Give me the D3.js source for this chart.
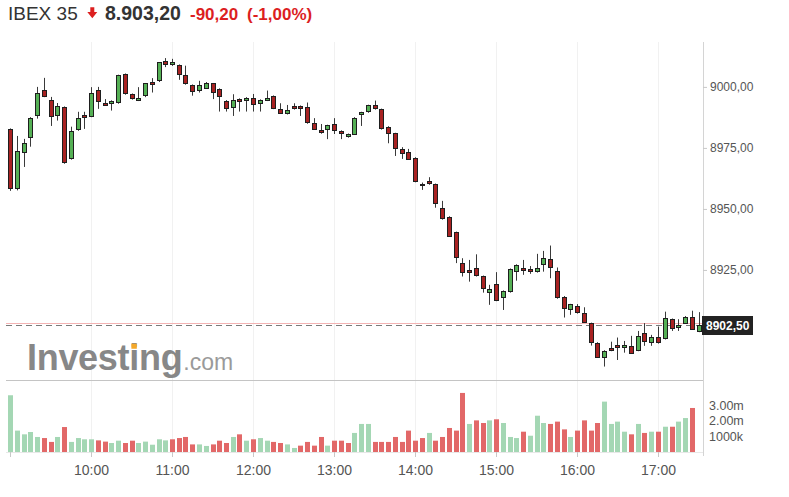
<!DOCTYPE html>
<html>
<head>
<meta charset="utf-8">
<script src="https://cdn.jsdelivr.net/npm/d3@7"></script>
<style>
  body { margin: 0; background: #fff; }
  svg { font-family: Arial, "Liberation Sans", sans-serif; display: block; }
  .axis text { fill: #555; }
  .axis line { stroke: #c8c8c8; }
</style>
</head>
<body>
<svg id="chart"></svg>
<script>
// header values
const symbol = 'IBEX 35';
const lastPrice = 8903.20;
const change = -90.20;
const changePct = -1.00;
const lineClose = 8903.20;   // pink reference line
const lastTick = 8902.50;    // dashed line + label

// 5 minute candles from 09:00
const sessionStart = '09:00';
const barMinutes = 5;

const opens = [8982.8, 8958.2, 8973.0, 8979.1, 8988.1, 8998.8, 8994.7, 8988.2, 8991.7, 8970.4,
  8982.4, 8988.5, 8987.8, 8998.8, 8993.6, 8993.0, 8993.3, 9005.3, 8997.1, 8994.4,
  8996.0, 9002.0, 9002.2, 9010.7, 9008.8, 9009.0, 9004.9, 9000.8, 8998.5, 8999.5,
  9001.4, 8999.2, 8994.4, 8991.3, 8995.1, 8994.4, 8995.6, 8992.9, 8994.4, 8996.3,
  8991.1, 8988.9, 8992.2, 8992.2, 8991.7, 8985.4, 8982.4, 8982.4, 8984.8, 8982.0,
  8979.4, 8980.6, 8988.4, 8989.6, 8992.5, 8990.9, 8983.7, 8981.0, 8974.5, 8973.5,
  8971.0, 8959.1, 8961.5, 8960.2, 8950.5, 8946.8, 8940.5, 8928.0, 8925.0, 8925.9,
  8922.5, 8915.5, 8919.3, 8913.4, 8915.9, 8924.3, 8925.9, 8925.4, 8924.1, 8927.3,
  8929.5, 8924.6, 8914.1, 8908.3, 8910.3, 8907.5, 8903.2, 8895.2, 8889.1, 8893.2,
  8894.3, 8892.9, 8894.0, 8891.9, 8899.3, 8895.0, 8897.4, 8896.7, 8904.9, 8901.1,
  8903.2, 8905.9, 8899.7];
const highs = [8983.0, 8979.9, 8978.7, 8987.6, 9000.0, 9003.7, 8995.9, 8993.4, 8992.0, 8983.7,
  8989.8, 8989.8, 8999.9, 9000.0, 8995.0, 8994.5, 9005.0, 9005.5, 8997.3, 8999.9,
  9001.6, 9003.6, 9010.2, 9011.8, 9011.5, 9009.2, 9008.7, 9001.0, 9002.5, 9002.0,
  9001.6, 8999.4, 8994.6, 8997.0, 8995.3, 8995.8, 8997.1, 8994.9, 8998.5, 8996.5,
  8993.3, 8992.6, 8993.3, 8992.4, 8993.6, 8987.2, 8984.8, 8984.5, 8987.2, 8982.2,
  8980.9, 8987.6, 8989.8, 8992.7, 8994.4, 8991.1, 8983.9, 8981.2, 8975.3, 8974.6,
  8971.2, 8960.8, 8963.0, 8960.4, 8953.3, 8947.0, 8940.7, 8929.8, 8929.1, 8931.4,
  8922.7, 8918.9, 8924.1, 8916.6, 8925.6, 8927.3, 8929.1, 8926.6, 8931.6, 8932.8,
  8935.0, 8926.0, 8914.3, 8911.1, 8911.0, 8909.7, 8903.4, 8895.4, 8892.1, 8895.6,
  8897.3, 8895.9, 8898.0, 8900.0, 8903.2, 8898.4, 8901.8, 8907.9, 8905.1, 8904.8,
  8906.1, 8908.3, 8907.7];
const lows = [8957.4, 8957.6, 8967.2, 8975.5, 8987.0, 8995.8, 8984.0, 8986.2, 8968.5, 8970.2,
  8982.0, 8982.8, 8987.6, 8991.0, 8992.2, 8990.3, 8993.1, 8996.8, 8994.8, 8994.2,
  8995.8, 8997.7, 9002.0, 9008.1, 9008.6, 9002.9, 9000.9, 8996.4, 8997.7, 8999.3,
  8995.0, 8989.9, 8989.9, 8988.1, 8989.9, 8989.9, 8989.9, 8989.9, 8994.2, 8990.9,
  8989.0, 8988.7, 8990.7, 8988.1, 8984.9, 8982.5, 8980.8, 8978.6, 8980.7, 8978.6,
  8979.2, 8980.4, 8984.0, 8989.4, 8990.7, 8982.5, 8976.9, 8971.7, 8970.5, 8970.2,
  8960.9, 8957.8, 8959.9, 8950.5, 8945.6, 8938.5, 8927.8, 8922.3, 8920.2, 8922.3,
  8915.7, 8910.7, 8912.2, 8908.6, 8915.7, 8920.6, 8923.0, 8923.4, 8923.9, 8924.3,
  8921.6, 8913.2, 8905.5, 8906.6, 8907.1, 8903.4, 8894.0, 8889.0, 8885.4, 8891.7,
  8888.1, 8891.1, 8890.7, 8891.7, 8893.9, 8893.9, 8894.8, 8896.5, 8900.0, 8900.0,
  8903.0, 8900.5, 8899.5];
const closes = [8958.2, 8973.8, 8977.2, 8987.4, 8997.7, 8996.0, 8987.8, 8992.2, 8968.7, 8982.0,
  8987.4, 8987.2, 8997.7, 8994.0, 8992.3, 8994.3, 9004.8, 8997.0, 8995.0, 8995.6,
  9001.4, 9000.7, 9010.0, 9009.1, 9010.0, 9005.1, 9001.1, 8998.1, 9000.9, 9001.8,
  8997.4, 8995.9, 8991.3, 8994.5, 8993.7, 8995.6, 8992.7, 8994.7, 8995.6, 8991.1,
  8989.2, 8990.6, 8990.9, 8990.9, 8985.1, 8982.7, 8981.0, 8984.3, 8982.1, 8980.6,
  8980.7, 8987.4, 8989.6, 8992.5, 8990.9, 8982.7, 8981.0, 8974.5, 8972.5, 8970.4,
  8961.1, 8960.1, 8960.1, 8951.9, 8945.8, 8938.7, 8929.8, 8923.7, 8923.7, 8922.5,
  8917.1, 8917.2, 8912.4, 8916.4, 8925.4, 8927.1, 8924.7, 8924.1, 8925.9, 8930.0,
  8925.7, 8913.4, 8909.3, 8910.9, 8907.3, 8903.6, 8895.2, 8889.2, 8891.9, 8891.9,
  8892.9, 8894.3, 8890.9, 8898.0, 8895.5, 8897.4, 8895.0, 8905.5, 8900.7, 8902.5,
  8905.9, 8900.7, 8902.5];

// volume in millions (last candle has no bar yet)
const volumeM = [3.66, 1.38, 1.14, 1.29, 0.97, 0.90, 0.65, 0.97, 1.61, 0.65,
  0.90, 0.82, 0.82, 0.75, 0.67, 0.58, 0.73, 0.58, 0.73, 0.58,
  0.67, 0.47, 0.82, 0.75, 0.82, 0.90, 0.97, 0.49, 0.49, 0.39,
  0.49, 0.73, 0.58, 0.97, 1.14, 0.73, 0.82, 0.90, 0.73, 0.65,
  0.58, 0.49, 0.26, 0.41, 0.65, 0.41, 0.97, 0.41, 0.73, 0.73,
  0.58, 1.23, 1.81, 1.81, 0.65, 0.65, 0.65, 0.97, 0.65, 1.38,
  0.73, 0.90, 1.23, 0.73, 0.97, 1.55, 1.38, 3.81, 1.81, 2.04,
  1.87, 2.04, 2.11, 1.87, 0.97, 0.90, 1.31, 1.05, 2.34, 1.87,
  1.81, 1.96, 1.46, 0.97, 1.38, 2.04, 1.38, 1.87, 3.25, 1.81,
  1.96, 1.31, 1.14, 1.81, 1.23, 1.31, 1.31, 1.63, 1.63, 1.96,
  2.19, 2.84];
const volUp = [1, 1, 1, 1, 1, 0, 0, 1, 0, 1, 1, 1, 1, 0, 0, 1, 1, 0, 0, 1,
  1, 1, 1, 1, 0, 0, 0, 0, 1, 1, 0, 0, 0, 1, 0, 1, 0, 1, 1, 0,
  0, 1, 1, 0, 0, 0, 0, 1, 0, 0, 0, 1, 1, 1, 0, 0, 0, 0, 0, 0,
  0, 0, 1, 0, 0, 0, 0, 0, 1, 0, 0, 1, 0, 1, 1, 1, 0, 1, 1, 1,
  0, 0, 0, 1, 0, 0, 0, 0, 1, 1, 1, 1, 0, 1, 0, 1, 0, 1, 0, 1,
  1, 0];

const priceTicks = [8925, 8950, 8975, 9000];
const volTicks = [1, 2, 3];
const volTickLabels = ['1000k', '2.00m', '3.00m'];

const W = 789, H = 497;
const frame = { left: 6, right: 703, top: 42, priceBottom: 380, volBottom: 452 };

const svg = d3.select('#chart').attr('width', W).attr('height', H);

const locale = d3.formatLocale({ decimal: ',', thousands: '.', grouping: [3], currency: ['', ''], minus: '-' });
const fmtPrice = locale.format(',.2f');
const fmtAxis = locale.format('.2f');

const parseHM = d3.timeParse('%Y-%m-%d %H:%M');
const start = parseHM('2024-01-02 ' + sessionStart);
const timeAt = i => d3.timeMinute.offset(start, i * barMinutes);

const candles = opens.map((o, i) => ({ t: timeAt(i), o, h: highs[i], l: lows[i], c: closes[i] }));
const vols = volumeM.map((v, i) => ({ t: timeAt(i), v, up: volUp[i] === 1 }));

// scales
const x = d3.scaleTime()
  .domain([start, timeAt(candles.length - 1)])
  .range([10, 698.5]);
const y = d3.scaleLinear().domain([8879.9, 9018.4]).range([frame.priceBottom, frame.top]);
const yv = d3.scaleLinear().domain([0, 4.58]).range([frame.volBottom, frame.priceBottom + 1]);

const px = d => Math.round(x(d.t));

// hour grid
const hours = d3.timeHour.range(d3.timeHour.offset(start, 1), d3.timeMinute.offset(timeAt(candles.length - 1), 1));
svg.append('g')
  .selectAll('line').data(hours).join('line')
  .attr('x1', d => Math.round(x(d)) + 0.5).attr('x2', d => Math.round(x(d)) + 0.5)
  .attr('y1', frame.top).attr('y2', frame.volBottom)
  .attr('stroke', '#f1f1f1');

// watermark
const wm = svg.append('g').attr('class', 'watermark');
const wmText = wm.append('text')
  .attr('x', 27).attr('y', 370)
  .attr('font-size', 36).attr('font-weight', 'bold')
  .attr('fill', '#878787').attr('letter-spacing', -0.3)
  .text('Investing');
wm.append('text')
  .attr('x', 27 + wmText.node().getComputedTextLength() + 1).attr('y', 370)
  .attr('font-size', 23).attr('fill', '#9a9a9a')
  .text('.com');
const iBox = wmText.node().getExtentOfChar(6);
wm.append('rect')
  .attr('x', iBox.x + iBox.width * 0.22).attr('y', 370 - 36 * 0.73)
  .attr('width', iBox.width * 0.56).attr('height', 36 * 0.14)
  .attr('fill', '#f4a82a');

// frame lines
svg.append('line')
  .attr('x1', frame.left).attr('x2', frame.right)
  .attr('y1', frame.priceBottom + 0.5).attr('y2', frame.priceBottom + 0.5)
  .attr('stroke', '#c4c4c4');
svg.append('line')
  .attr('x1', frame.left).attr('x2', frame.right)
  .attr('y1', frame.volBottom + 0.5).attr('y2', frame.volBottom + 0.5)
  .attr('stroke', '#e8e8e8');
svg.append('line')
  .attr('x1', frame.right + 0.5).attr('x2', frame.right + 0.5)
  .attr('y1', frame.top).attr('y2', frame.volBottom + 4)
  .attr('stroke', '#d4d4d4');

// reference lines
svg.append('line')
  .attr('x1', frame.left).attr('x2', frame.right)
  .attr('y1', Math.round(y(lineClose)) + 0.5).attr('y2', Math.round(y(lineClose)) + 0.5)
  .attr('stroke', '#f3b4b4');
svg.append('line')
  .attr('x1', frame.left).attr('x2', frame.right)
  .attr('y1', Math.round(y(lastTick)) + 0.5).attr('y2', Math.round(y(lastTick)) + 0.5)
  .attr('stroke', '#7a7a7a').attr('stroke-dasharray', '6,4');

// volume bars
svg.append('g')
  .selectAll('rect').data(vols).join('rect')
  .attr('x', d => px(d) - 2)
  .attr('width', 5)
  .attr('y', d => yv(d.v))
  .attr('height', d => yv(0) - yv(d.v))
  .attr('fill', d => d.up ? '#a4d7b4' : '#e26868');

// candles
const cg = svg.append('g').selectAll('g').data(candles).join('g');
cg.append('line')
  .attr('x1', d => px(d) + 0.5).attr('x2', d => px(d) + 0.5)
  .attr('y1', d => y(d.h)).attr('y2', d => y(d.l))
  .attr('stroke', '#3a3a3a');
cg.append('rect')
  .attr('x', d => px(d) - 1.5)
  .attr('width', 4)
  .attr('y', d => Math.round(y(Math.max(d.o, d.c))) + 0.5)
  .attr('height', d => Math.max(1, Math.round(Math.abs(y(d.o) - y(d.c))) - 1))
  .attr('fill', d => d.c >= d.o ? '#55b055' : '#a82222')
  .attr('stroke', '#1e1e1e');

// price axis
svg.append('g')
  .attr('class', 'axis')
  .attr('transform', `translate(${frame.right},0)`)
  .call(d3.axisRight(y).tickValues(priceTicks).tickFormat(fmtAxis).tickSize(4).tickPadding(3))
  .call(g => g.select('.domain').remove())
  .call(g => g.selectAll('text').attr('font-size', 12));

// volume axis
svg.append('g')
  .attr('class', 'axis')
  .attr('transform', `translate(${frame.right},0)`)
  .call(d3.axisRight(yv).tickValues(volTicks).tickFormat((d, i) => volTickLabels[i]).tickSize(0).tickPadding(6))
  .call(g => g.select('.domain').remove())
  .call(g => g.selectAll('text').attr('font-size', 12.5));

// time axis
const timeTicks = [start].concat(hours);
svg.append('g')
  .attr('class', 'axis')
  .attr('transform', `translate(0,${frame.volBottom})`)
  .call(d3.axisBottom(x).tickValues(timeTicks).tickFormat((d, i) => i === 0 ? '' : d3.timeFormat('%H:%M')(d)).tickSize(5).tickPadding(8))
  .call(g => g.select('.domain').remove())
  .call(g => g.selectAll('text').attr('font-size', 14));

// last price label
const ly = y(lastTick);
const lab = svg.append('g').attr('transform', `translate(${frame.right - 1},${Math.round(ly)})`);
lab.append('rect').attr('x', 0).attr('y', -9).attr('width', 51).attr('height', 19).attr('fill', '#222');
lab.append('text').attr('x', 4).attr('y', 5).attr('font-size', 12).attr('font-weight', 'bold')
  .attr('fill', '#fff').text(fmtAxis(lastTick));

// header
const head = svg.append('g');
head.append('text').attr('x', 8).attr('y', 20).attr('font-size', 19).attr('fill', '#333').text(symbol);
head.append('path').attr('d', 'M90.3,7.3 H94.3 V12 H97.3 L92.3,18.3 L87.3,12 H90.3 Z').attr('fill', '#dc1f1f');
head.append('text').attr('x', 105).attr('y', 20).attr('font-size', 19.5).attr('font-weight', 'bold')
  .attr('fill', '#333').text(fmtPrice(lastPrice));
head.append('text').attr('x', 190).attr('y', 20).attr('font-size', 17).attr('font-weight', 'bold')
  .attr('fill', '#dc1f1f').text(locale.format('.2f')(change));
head.append('text').attr('x', 247).attr('y', 20).attr('font-size', 17).attr('font-weight', 'bold')
  .attr('fill', '#dc1f1f').text('(' + locale.format('.2f')(changePct) + '%)');
</script>
</body>
</html>
